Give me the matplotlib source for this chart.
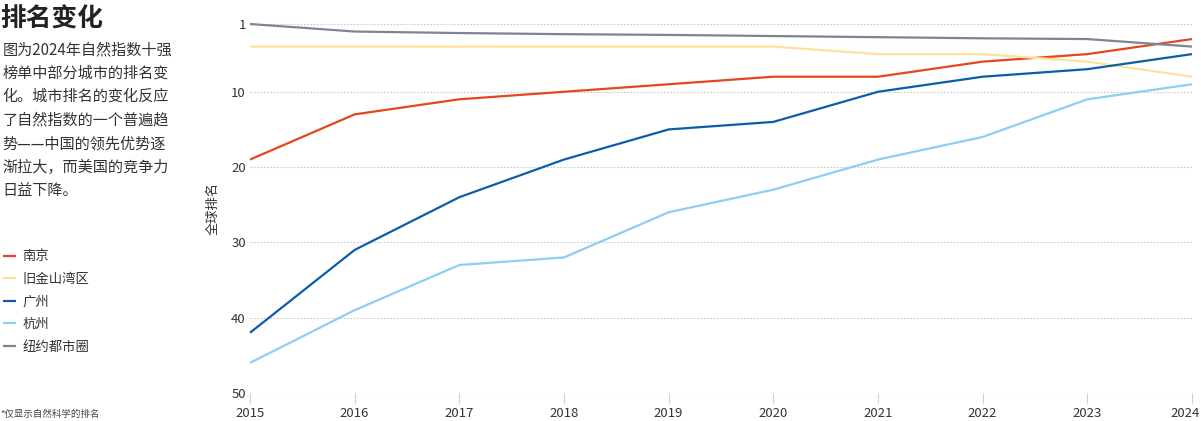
import matplotlib

matplotlib.use("Agg", force=True)
import matplotlib.pyplot as plt
from matplotlib.transforms import ScaledTranslation

plt.rcParams["font.family"] = ["Noto Sans CJK SC", "DejaVu Sans"]

years = [2015, 2016, 2017, 2018, 2019, 2020, 2021, 2022, 2023, 2024]
nanjing = [19, 13, 11, 10, 9, 8, 8, 6, 5, 3]
sf_bay = [4, 4, 4, 4, 4, 4, 5, 5, 6, 8]
guangzhou = [42, 31, 24, 19, 15, 14, 10, 8, 7, 5]
hangzhou = [46, 39, 33, 32, 26, 23, 19, 16, 11, 9]
new_york = [1, 2.0, 2.2, 2.35, 2.45, 2.6, 2.75, 2.9, 3.0, 4]

series = [
    ("南京", nanjing, "#e5461c"),
    ("旧金山湾区", sf_bay, "#ffe29a"),
    ("广州", guangzhou, "#0b5dab"),
    ("杭州", hangzhou, "#8ccff3"),
    ("纽约都市圈", new_york, "#7b8593"),
]
y_ticks = [1, 10, 20, 30, 40, 50]

title = "排名变化"
body = "图为2024年自然指数十强\n榜单中部分城市的排名变\n化。城市排名的变化反应\n了自然指数的一个普遍趋\n势——中国的领先优势逐\n渐拉大，而美国的竞争力\n日益下降。"
note = "*仅显示自然科学的排名"

W, H = 1201, 421
fig = plt.figure(figsize=(W / 100, H / 100), dpi=100)
ax = fig.add_axes([250 / W, 1 - 393 / H, 942 / W, (393 - 24) / H])

for name, vals, color in series:
    ax.plot(years, vals, color=color, linewidth=1.6, label=name, clip_on=False, solid_capstyle="butt")

ax.set_xlim(2015, 2024)
ax.set_ylim(50, 1)
ax.set_yticks(y_ticks)
ax.set_xticks(years)
ax.grid(axis="y", linestyle=(0, (1.5, 1.5)), color="#c9c9c9", linewidth=0.8)
ax.set_axisbelow(True)
for s in ax.spines.values():
    s.set_visible(False)
ax.tick_params(axis="y", length=0, pad=3, labelsize=9.5, labelcolor="#333333")
ax.tick_params(axis="x", length=7, width=0.8, color="#d0d0d0", pad=3, labelsize=9.5, labelcolor="#333333")
ax.set_ylabel("全球排名", fontsize=9.5, color="#333333", labelpad=8)

last = ax.get_xticklabels()[-1]
last.set_transform(last.get_transform() + ScaledTranslation(-7 / 100, 0, fig.dpi_scale_trans))

fig.text(0, 1 - 18 / H, title, fontsize=18.5, fontweight="bold", color="#222222", va="center", ha="left")
fig.text(0.002, 1 - 41 / H, body, fontsize=10.9, color="#333333", va="top", ha="left", linespacing=1.5)
fig.text(0, 1 - 414 / H, note, fontsize=6.8, color="#444444", va="center", ha="left")

fig.legend(loc="upper left", bbox_to_anchor=(-0.002, 1 - 244 / H), frameon=False,
           fontsize=9.6, handlelength=1.0, handletextpad=0.45, labelspacing=0.64,
           borderaxespad=0, labelcolor="#333333")

fig.savefig("out.png", dpi=100)
